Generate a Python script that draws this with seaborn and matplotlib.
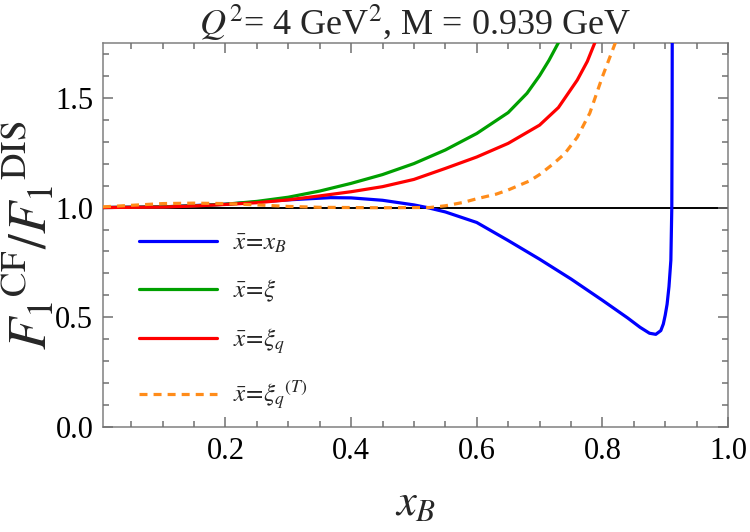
import numpy as np
import matplotlib
matplotlib.use("Agg")
import matplotlib.pyplot as plt
from matplotlib.ticker import MultipleLocator, FormatStrFormatter
import seaborn as sns

sns.set_style("white")
plt.rcParams["font.family"] = ["Liberation Serif", "DejaVu Serif"]
plt.rcParams["mathtext.fontset"] = "stix"

# curves (x_B, F1 ratio)
x_xb = [0.005, 0.1, 0.2, 0.3, 0.367, 0.4, 0.45, 0.5, 0.521, 0.55, 0.6, 0.65,
        0.7, 0.75, 0.8, 0.84, 0.86, 0.875, 0.885, 0.893, 0.897, 0.9, 0.903,
        0.906, 0.909, 0.9105, 0.911, 0.9112]
y_xb = [1.0, 1.003, 1.015, 1.035, 1.045, 1.044, 1.033, 1.012, 1.0, 0.98, 0.932,
        0.85, 0.765, 0.675, 0.578, 0.498, 0.455, 0.428, 0.423, 0.44, 0.47, 0.51,
        0.56, 0.64, 0.76, 1.0, 1.4, 1.8]

x_xi = [0.005, 0.1, 0.15, 0.2, 0.25, 0.3, 0.35, 0.4, 0.45, 0.5, 0.55, 0.6,
        0.65, 0.68, 0.7, 0.715, 0.73]
y_xi = [1.0, 1.003, 1.008, 1.015, 1.028, 1.047, 1.075, 1.11, 1.15, 1.20, 1.262,
        1.337, 1.432, 1.52, 1.60, 1.67, 1.75]

x_xiq = [0.005, 0.1, 0.15, 0.2, 0.25, 0.3, 0.35, 0.4, 0.45, 0.5, 0.55, 0.6,
         0.65, 0.7, 0.73, 0.76, 0.776, 0.788]
y_xiq = [1.0, 1.002, 1.007, 1.014, 1.022, 1.035, 1.053, 1.072, 1.095, 1.128,
         1.178, 1.23, 1.292, 1.375, 1.455, 1.58, 1.665, 1.75]

x_xiqT = [0.005, 0.1, 0.15, 0.2, 0.25, 0.3, 0.35, 0.4, 0.45, 0.5, 0.525, 0.55,
          0.578, 0.6, 0.631, 0.65, 0.684, 0.7, 0.721, 0.74, 0.76, 0.78, 0.8,
          0.81, 0.822]
y_xiqT = [1.003, 1.018, 1.02, 1.018, 1.012, 1.005, 1.001, 1.0, 0.999, 1.0, 1.0,
          1.008, 1.023, 1.04, 1.061, 1.08, 1.121, 1.15, 1.197, 1.245, 1.32,
          1.43, 1.595, 1.67, 1.76]

labels = [r"$\bar{x}\!=\!x_B$", r"$\bar{x}\!=\!\xi$", r"$\bar{x}\!=\!\xi_q$",
          r"$\bar{x}\!=\!\xi_q{}^{(T)}$"]
colors = ["#0000ff", "#00a000", "#ff0000", "#ff8c1a"]

fig = plt.figure(figsize=(7.5, 5.32), dpi=100)
ax = fig.add_axes([0.1373, 0.1968, 0.8334, 0.7229])

ax.axhline(1.0, color="black", lw=1.4, zorder=1)

series = [(x_xb, y_xb), (x_xi, y_xi), (x_xiq, y_xiq), (x_xiqT, y_xiqT)]
for i, (xs, ys) in enumerate(series):
    sns.lineplot(x=xs, y=ys, ax=ax, color=colors[i], lw=2.3, label=labels[i],
                 estimator=None, sort=False, zorder=3)
ax.lines[-1].set_dashes((2.5, 1.9))

ax.set_xlim(0.005, 1.0)
ax.set_ylim(0.0, 1.75)
ax.xaxis.set_major_locator(MultipleLocator(0.2))
ax.xaxis.set_minor_locator(MultipleLocator(0.05))
ax.yaxis.set_major_locator(MultipleLocator(0.5))
ax.yaxis.set_minor_locator(MultipleLocator(0.1))
ax.xaxis.set_major_formatter(FormatStrFormatter("%.1f"))
ax.yaxis.set_major_formatter(FormatStrFormatter("%.1f"))

for s in ax.spines.values():
    s.set_color("#808080")
    s.set_linewidth(1.1)
ax.set_axisbelow(False)
ax.tick_params(axis="both", which="both", direction="in", top=True, right=True,
               bottom=True, left=True, colors="#707070", labelcolor="black",
               labelsize=22, pad=7)
ax.tick_params(axis="both", which="major", length=7, width=1.1)
ax.tick_params(axis="both", which="minor", length=4, width=1.0)

# make sure the frame ticks are actually drawn
for axis in (ax.xaxis, ax.yaxis):
    for minor, size in ((False, 7), (True, 4)):
        for tl in axis.get_ticklines(minor=minor):
            tl.set_visible(True)
            tl.set_markersize(size)
            tl.set_markeredgewidth(1.1)
            tl.set_markeredgecolor("#707070")
            tl.set_zorder(5)

ax.set_title(r"$Q^2$= 4 GeV$^2$, M = 0.939 GeV", fontsize=26, pad=2)
ax.set_xlabel(r"$x_B$", fontsize=32, labelpad=13)
ax.set_ylabel(r"$F_1{}^{\mathrm{CF}}/F_1{}^{\mathrm{DIS}}$", fontsize=38, labelpad=-2)

leg = ax.legend(loc="upper left", bbox_to_anchor=(0.022, 0.565), frameon=False,
                fontsize=18, handlelength=3.1, labelspacing=0.9, handletextpad=0.65)

plt.savefig("out.png", dpi=100)
